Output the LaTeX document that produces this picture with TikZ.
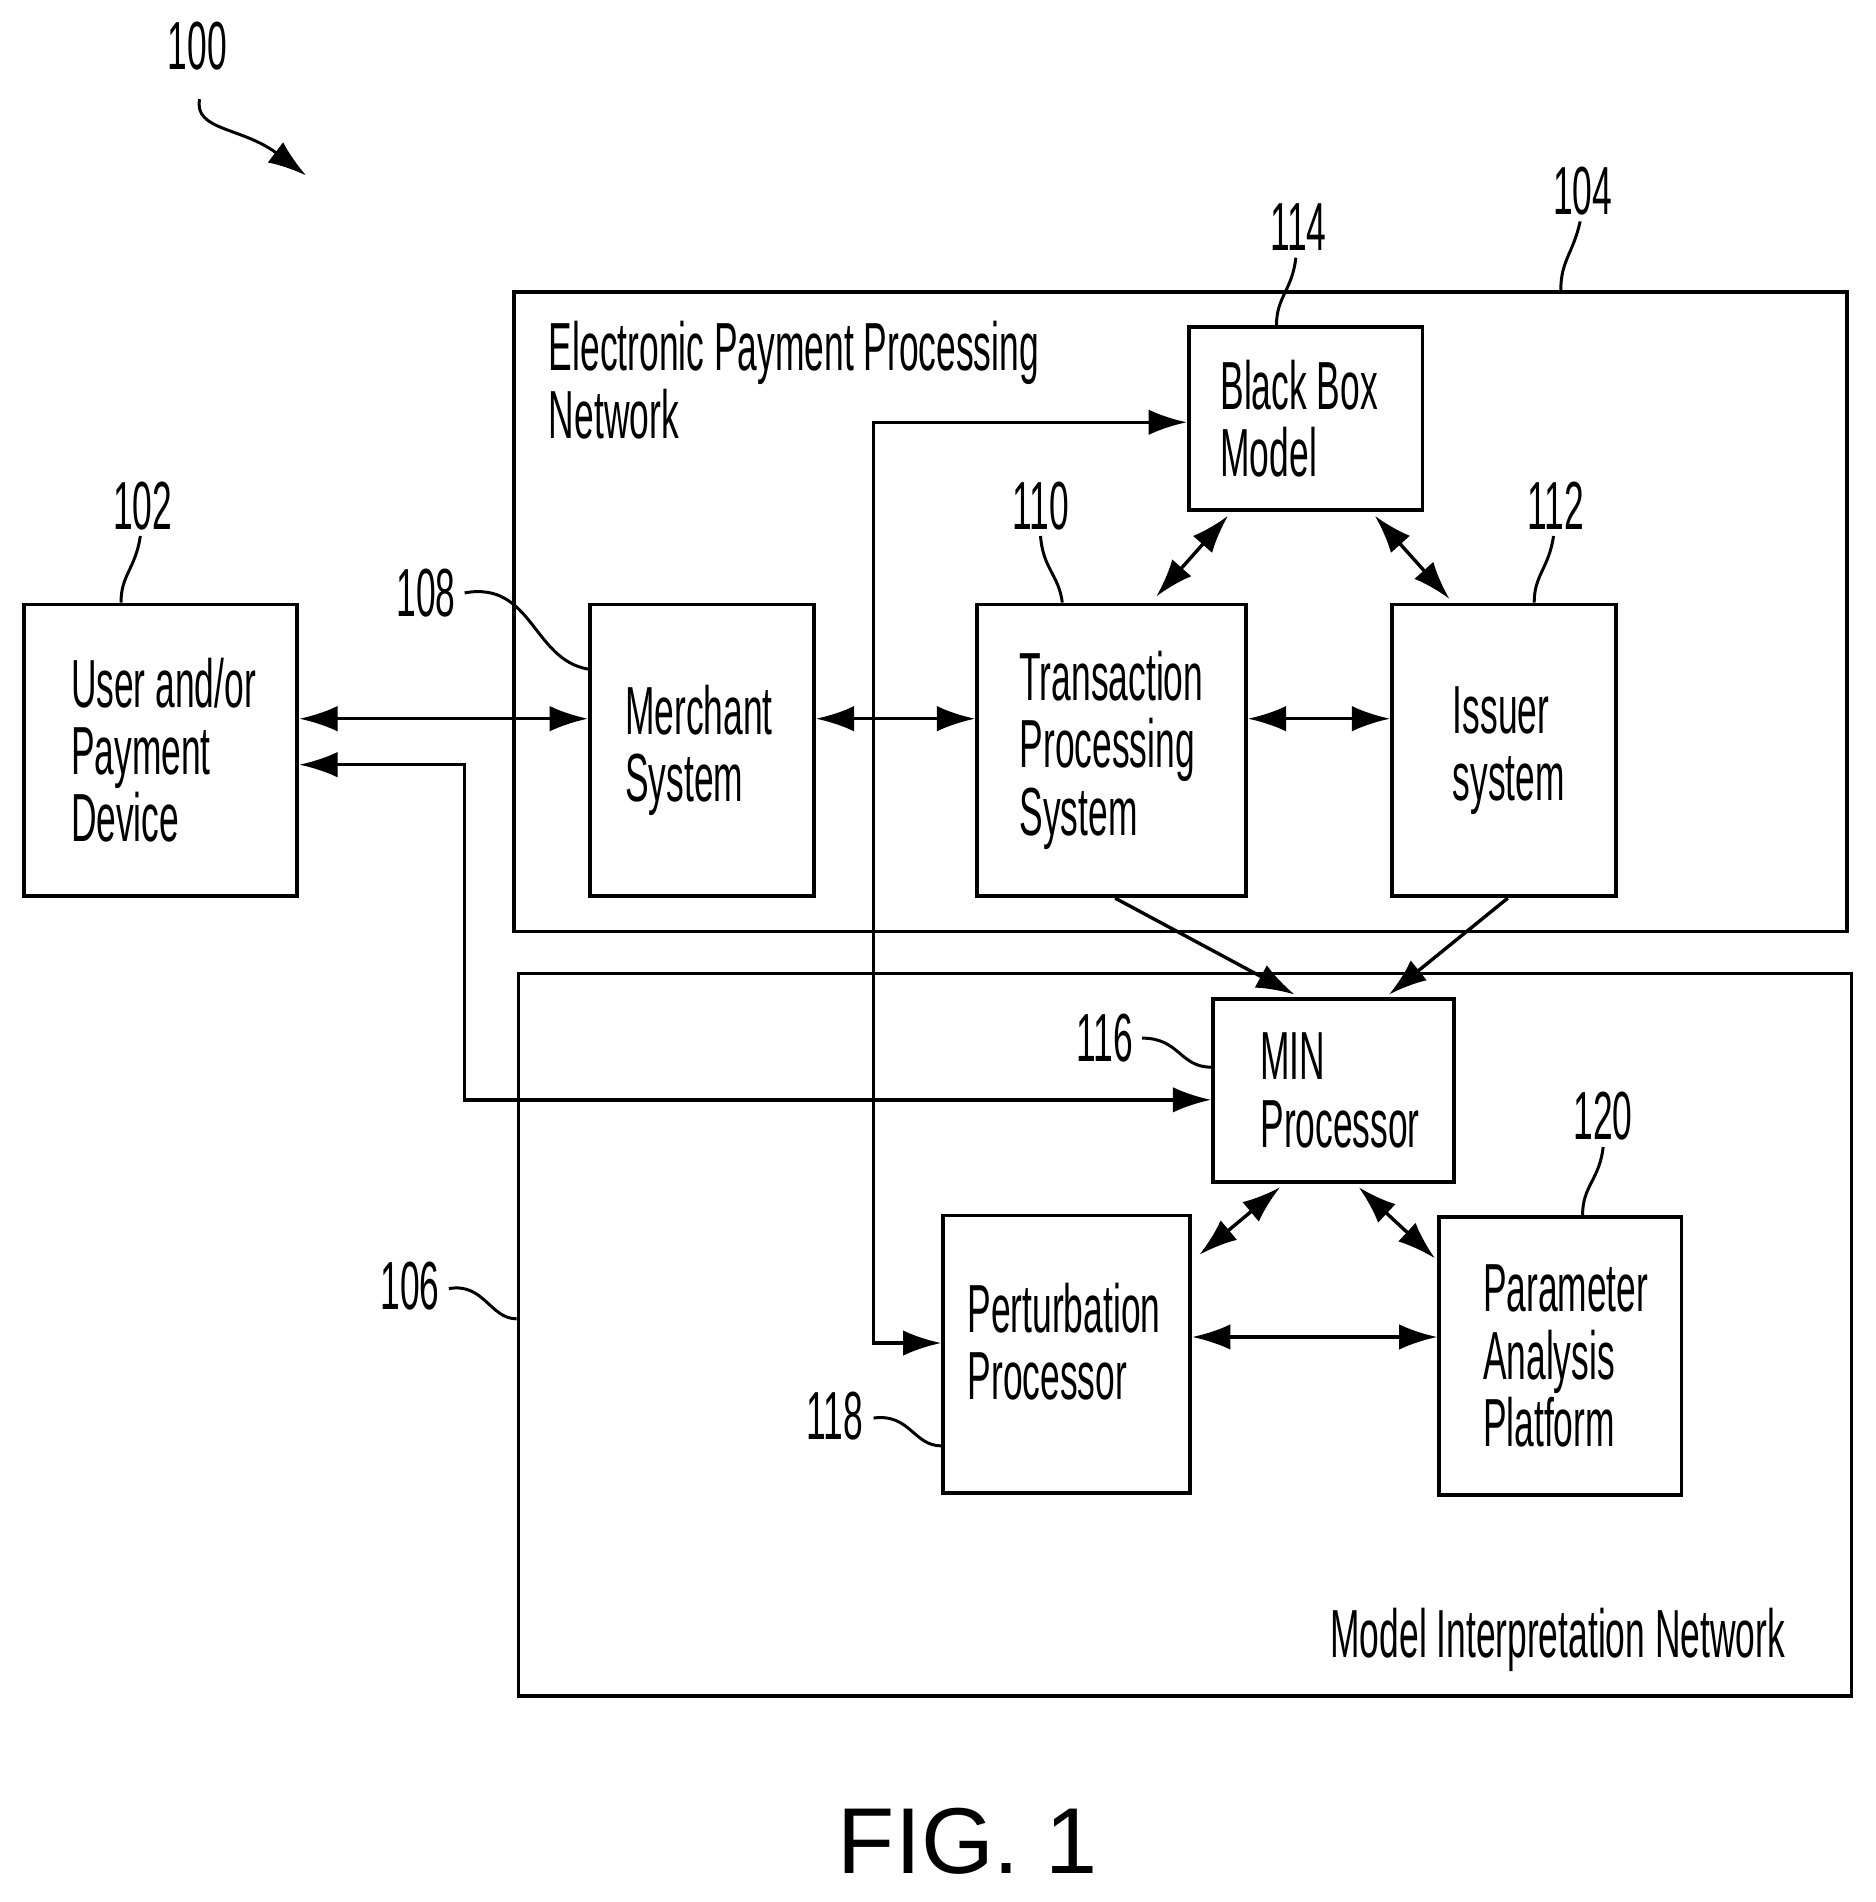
\documentclass[tikz,border=0pt]{standalone}
\usepackage{fontspec}
\setmainfont{Liberation Sans}[FakeStretch=0.52]
\newfontfamily\figfont{Liberation Sans}
\usetikzlibrary{arrows.meta,positioning,calc}
\tikzset{
  box/.style={draw, line width=0.9pt, anchor=north west, inner sep=0pt},
  txt/.style={anchor=west, align=left, font=\fontsize{16}{15.8}\selectfont, inner sep=0pt},
  num/.style={font=\fontsize{16}{16}\selectfont, inner sep=1pt},
  lead/.style={line width=0.7pt},
  tip/.style={-{Latex[length=9pt,width=6pt]}, line width=0.8pt},
  dbl/.style={{Latex[length=9pt,width=6pt]}-{Latex[length=9pt,width=6pt]}, line width=0.8pt}
}
\begin{document}
\begin{tikzpicture}[x=0.01cm,y=-0.01cm]
\useasboundingbox (0,0) rectangle (1550,1572);
% networks
\node[box, minimum width=11.01cm, minimum height=5.28cm] (epn) at (423,240) {};
\node[box, minimum width=11.01cm, minimum height=5.97cm] (min) at (427,803) {};
\node[txt, anchor=north west] at (453,265) {Electronic Payment Processing\\Network};
\node[txt, anchor=south east] at (1476,1382) {Model Interpretation Network};
% blocks
\node[box, minimum width=2.26cm, minimum height=2.41cm] (user) at (18,498) {};
\node[box, minimum width=1.85cm, minimum height=2.41cm] (mer) at (486,498) {};
\node[box, minimum width=2.22cm, minimum height=2.41cm] (tps) at (806,498) {};
\node[box, minimum width=1.85cm, minimum height=2.41cm] (iss) at (1149,498) {};
\node[box, minimum width=1.93cm, minimum height=1.51cm] (bbm) at (981,269) {};
\node[box, minimum width=1.99cm, minimum height=1.51cm] (minp) at (1001,824) {};
\node[box, minimum width=2.04cm, minimum height=2.29cm] (pert) at (778,1003) {};
\node[box, minimum width=2.00cm, minimum height=2.30cm] (par) at (1188,1004) {};
% block texts
\node[txt] at ([xshift=0.4cm]user.west) {User and/or\\Payment\\Device};
\node[txt] at ([xshift=0.3cm]mer.west) {Merchant\\System};
\node[txt] at ([xshift=0.36cm]tps.west) {Transaction\\Processing\\System};
\node[txt] at ([xshift=0.51cm]iss.west) {Issuer\\system};
\node[txt] at ([xshift=0.27cm]bbm.west) {Black Box\\Model};
\node[txt] at ([xshift=0.4cm]minp.west) {MIN\\Processor};
\node[txt] at ([xshift=0.21cm,yshift=0.1cm]pert.west) {Perturbation\\Processor};
\node[txt] at ([xshift=0.37cm]par.west) {Parameter\\Analysis\\Platform};
% connectors
\draw[dbl] (user.east |- 0,594) -- (mer.west |- 0,594);
\draw[dbl] (mer.east |- 0,594) -- (tps.west |- 0,594);
\draw[dbl] (tps.east |- 0,594) -- (iss.west |- 0,594);
\draw[dbl] (user.east |- 0,632) -- (384,632) -- (384,909) -- (minp.west |- 0,909);
\draw[dbl] (pert.west |- 0,1110) -- (722,1110) -- (722,349) -- (bbm.west |- 0,349);
\draw[dbl] ($(bbm.south west)+(34,3)$) -- ($(tps.north)+(37,-5)$);
\draw[dbl] ($(bbm.south east)+(-41,3)$) -- ($(iss.north west)+(49,-3)$);
\draw[tip] ($(tps.south)+(3,0)$) -- ($(minp.north west)+(69,-2)$);
\draw[tip] ($(iss.south)+(3,0)$) -- ($(minp.north west)+(147,-2)$);
\draw[dbl] ($(minp.south west)+(57,3)$) -- ($(pert.north east)+(6,34)$);
\draw[dbl] ($(minp.south west)+(122,3)$) -- ($(par.north west)+(-2,36)$);
\draw[dbl] (pert.east |- 0,1105) -- (par.west |- 0,1105);
% reference numerals
\node[num] (n100) at (163,38) {100};
\draw[lead, -{Latex[length=9pt,width=6pt]}] (165,82) .. controls (160,108) and (200,105) .. (253,145);
\node[num] (n104) at (1308,158) {104};
\draw[lead] (1306,183) .. controls (1300,210) and (1290,215) .. (1290,240);
\node[num] (n114) at (1073,188) {114};
\draw[lead] (1071,213) .. controls (1068,240) and (1055,245) .. (bbm.north west -| 1055,0);
\node[num] (n102) at (118,418) {102};
\draw[lead] (116,443) .. controls (112,470) and (100,475) .. (user.north -| 100,0);
\node[num] (n110) at (860,418) {110};
\draw[lead] (860,443) .. controls (862,470) and (875,475) .. (tps.north -| 878,0);
\node[num] (n112) at (1286,418) {112};
\draw[lead] (1284,443) .. controls (1280,470) and (1268,475) .. (iss.north -| 1268,0);
\node[num] (n108) at (352,490) {108};
\draw[lead] (384,490) .. controls (440,480) and (440,545) .. (mer.west |- 0,553);
\node[num] (n116) at (913,858) {116};
\draw[lead] (944,858) .. controls (975,858) and (975,882) .. (minp.west |- 0,882);
\node[num] (n120) at (1325,922) {120};
\draw[lead] (1325,948) .. controls (1322,975) and (1308,980) .. (par.north -| 1308,0);
\node[num] (n106) at (339,1063) {106};
\draw[lead] (371,1065) .. controls (400,1060) and (405,1090) .. (min.west |- 0,1090);
\node[num] (n118) at (690,1170) {118};
\draw[lead] (722,1172) .. controls (752,1168) and (755,1195) .. (pert.west |- 0,1195);
\node[font=\figfont\fontsize{22}{22}\selectfont] (fig) at (800,1522) {FIG. 1};
\end{tikzpicture}
\end{document}
